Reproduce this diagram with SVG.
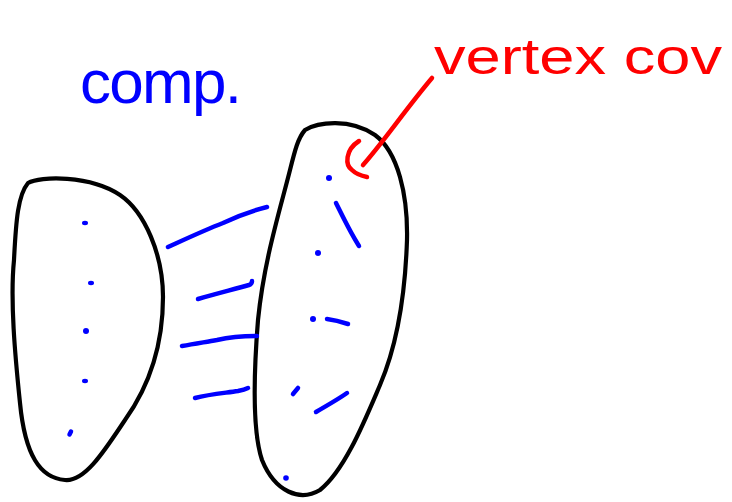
<svg xmlns="http://www.w3.org/2000/svg" width="732" height="502" viewBox="0 0 732 502">
<style>
.set{fill:none;stroke:#000;stroke-width:4.2;stroke-linecap:round;stroke-linejoin:round}
.b{fill:none;stroke:#0000ff;stroke-width:4.5;stroke-linecap:round;stroke-linejoin:round}
.d{fill:#0000ff}
.r{fill:none;stroke:#ff0000;stroke-width:4.5;stroke-linecap:round;stroke-linejoin:round}
.lbl{font-family:"Liberation Sans",Arial,sans-serif}
</style>
<rect width="732" height="502" fill="#fff"/>
<g id="left-set">
<path class="set" d="M28,183 C40,176 90,175 120,195 C145,212 163,255 163,297 C163,345 150,385 125,420 C105,450 85,482 65,480 C40,478 25,455 20,403 C15,355 10,300 14,260 C16,220 18,195 28,183 Z"/>
<ellipse class="d" cx="85" cy="223" rx="3" ry="2.2"/>
<ellipse class="d" cx="91" cy="283" rx="3" ry="2.2"/>
<circle class="d" cx="86" cy="331" r="3"/>
<ellipse class="d" cx="85" cy="381" rx="3" ry="2.2"/>
<path class="b" d="M69.5,434.5 L71,431.5"/>
</g>
<g id="right-set">
<path class="set" d="M305,130 C318,122 350,118 375,135 C398,152 408,195 407,240 C405,300 395,350 380,385 C365,420 345,470 320,490 C300,502 275,492 262,460 C252,430 254,370 258,320 C264,260 280,210 290,170 C295,150 298,138 305,130 Z"/>
<circle class="d" cx="329" cy="178" r="3"/>
<circle class="d" cx="318" cy="253" r="3"/>
<circle class="d" cx="313" cy="319" r="3"/>
<circle class="d" cx="286" cy="478" r="2.8"/>
<path class="b" d="M336,203 C342,215 350,232 359,246"/>
<path class="b" d="M327,319 C335,320 342,322 348,324"/>
<path class="b" d="M293,394 L298,388"/>
<path class="b" d="M316,412 C326,406 337,400 347,393"/>
</g>
<g id="connectors">
<path class="b" d="M168,247 C190,237 205,230 223,223 C240,215 255,210 267,207"/>
<path class="b" d="M198,299 C215,294 235,289 249,285 C252,284 252,282 252,281"/>
<path class="b" d="M182,346 C195,344 205,342 217,340 C230,337 245,336 257,336"/>
<path class="b" d="M195,398 C210,394 225,393 238,391 C243,390 246,389 248,388"/>
</g>
<g id="comp-label">
<text class="lbl" x="80" y="103" font-size="62" fill="#0000ff" textLength="162" lengthAdjust="spacing">comp.</text>
</g>
<g id="vertex-cover-label">
<path class="r" d="M359,141 C345,150 345,165 352,170 C356,174 362,176 367,177"/>
<path class="r" d="M363,165 C385,140 405,110 432,78"/>
<text class="lbl" x="434" y="74" font-size="50" fill="#ff0000" textLength="288" lengthAdjust="spacingAndGlyphs">vertex cov</text>
</g>
</svg>
